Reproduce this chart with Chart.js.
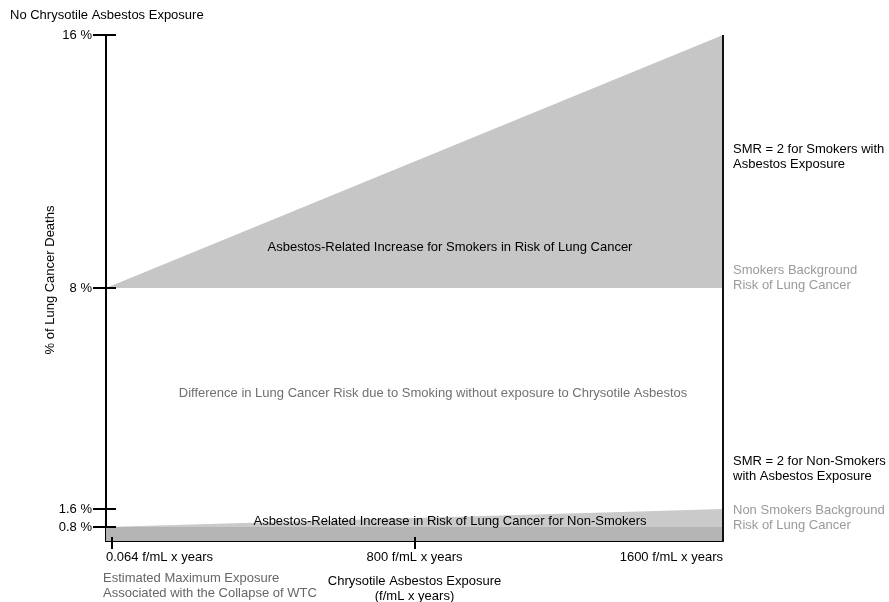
<!DOCTYPE html>
<html><head><meta charset="utf-8">
<script src="https://cdn.jsdelivr.net/npm/chart.js@4.4.1/dist/chart.umd.min.js"></script>
<style>html,body{margin:0;padding:0;background:#fff;}#wrap{width:889px;height:602px;position:relative;}</style>
</head><body><div id="wrap"><canvas id="c" width="889" height="602"></canvas></div>
<script>
// ---- data ----
const exposureLevels = [0.064, 1600];
const nonSmokersBackground = [0.8, 0.8];
const nonSmokersWithAsbestos = [0.8, 1.6];
const smokersBackground = [8, 8];
const smokersWithAsbestos = [8, 16];
const yTickValues = [0.8, 1.6, 8, 16];
const yTickLabels = ['0.8 %', '1.6 %', '8 %', '16 %'];
const xTickValues = [0.064, 800, 1600];
const xTickLabels = ['0.064 f/mL x years', '800 f/mL x years', '1600 f/mL x years'];

// schematic (broken) y axis: value knots and their share of the axis height
const yBreakValues = [0, 0.8, 1.6, 8, 16];
const yBreakFractions = [0, 14/506, 32/506, 0.5, 1];

const FONT = '"Liberation Sans", Arial, Helvetica, sans-serif';
Chart.defaults.font.family = FONT;
Chart.defaults.font.size = 13;
Chart.defaults.color = '#000';

class BrokenLinearScale extends Chart.LinearScale {
  getPixelForValue(value) {
    const v = yBreakValues, f = yBreakFractions;
    let d;
    if (value <= v[0]) d = f[0];
    else if (value >= v[v.length - 1]) d = f[f.length - 1];
    else {
      for (let i = 1; i < v.length; i++) {
        if (value <= v[i]) { d = f[i-1] + (value - v[i-1]) / (v[i] - v[i-1]) * (f[i] - f[i-1]); break; }
      }
    }
    return this.getPixelForDecimal(d);
  }
  getValueForPixel(pixel) {
    const d = this.getDecimalForPixel(pixel);
    const v = yBreakValues, f = yBreakFractions;
    for (let i = 1; i < f.length; i++) {
      if (d <= f[i]) return v[i-1] + (d - f[i-1]) / (f[i] - f[i-1]) * (v[i] - v[i-1]);
    }
    return v[v.length - 1];
  }
}
BrokenLinearScale.id = 'brokenLinear';
BrokenLinearScale.defaults = Chart.LinearScale.defaults;
Chart.register(BrokenLinearScale);

const pts = arr => exposureLevels.map((x, i) => ({x, y: arr[i]}));

const notes = [
  {t: 'No Chrysotile Asbestos Exposure', x: 10, y: 15, a: 'left', c: '#000'},
  {t: 'Asbestos-Related Increase for Smokers in Risk of Lung Cancer', x: 450, y: 247, a: 'center', c: '#000'},
  {t: 'Difference in Lung Cancer Risk due to Smoking without exposure to Chrysotile Asbestos', x: 433, y: 393, a: 'center', c: '#707070'},
  {t: 'Asbestos-Related Increase in Risk of Lung Cancer for Non-Smokers', x: 450, y: 521, a: 'center', c: '#000'},
  {t: 'SMR = 2 for Smokers with', x: 733, y: 149, a: 'left', c: '#000'},
  {t: 'Asbestos Exposure', x: 733, y: 164, a: 'left', c: '#000'},
  {t: 'Smokers Background', x: 733, y: 270, a: 'left', c: '#9a9a9a'},
  {t: 'Risk of Lung Cancer', x: 733, y: 285, a: 'left', c: '#9a9a9a'},
  {t: 'SMR = 2 for Non-Smokers', x: 733, y: 461, a: 'left', c: '#000'},
  {t: 'with Asbestos Exposure', x: 733, y: 476, a: 'left', c: '#000'},
  {t: 'Non Smokers Background', x: 733, y: 510, a: 'left', c: '#9a9a9a'},
  {t: 'Risk of Lung Cancer', x: 733, y: 525, a: 'left', c: '#9a9a9a'},
  {t: 'Estimated Maximum Exposure', x: 103, y: 578, a: 'left', c: '#666'},
  {t: 'Associated with the Collapse of WTC', x: 103, y: 593, a: 'left', c: '#666'}
];

const decor = {
  id: 'decor',
  afterDraw(chart) {
    const ctx = chart.ctx, ca = chart.chartArea;
    const xs = chart.scales.x, ys = chart.scales.y;
    ctx.save();
    ctx.strokeStyle = '#111';
    ctx.lineWidth = 2;
    // right frame line
    ctx.beginPath(); ctx.moveTo(ca.right, ca.top); ctx.lineTo(ca.right, ca.bottom + 1); ctx.stroke();
    ctx.strokeStyle = '#000';
    // y tick marks crossing the axis
    yTickValues.forEach(v => {
      const py = Math.round(ys.getPixelForValue(v));
      ctx.beginPath(); ctx.moveTo(93, py); ctx.lineTo(116, py); ctx.stroke();
    });
    // x tick marks
    xTickValues.forEach(v => {
      if (v >= 1600) return;
      const px = Math.round(xs.getPixelForValue(v)) + (v < 1 ? 6 : 0);
      ctx.beginPath(); ctx.moveTo(px, 537); ctx.lineTo(px, 549); ctx.stroke();
    });
    // texts
    ctx.font = '13px ' + FONT;
    ctx.textBaseline = 'middle';
    notes.forEach(n => { ctx.fillStyle = n.c; ctx.textAlign = n.a; ctx.fillText(n.t, n.x, n.y); });
    // y axis title
    ctx.translate(50, 280); ctx.rotate(-Math.PI / 2);
    ctx.fillStyle = '#000'; ctx.textAlign = 'center';
    ctx.fillText('% of Lung Cancer Deaths', 0, 0);
    ctx.restore();
  }
};

new Chart(document.getElementById('c'), {
  type: 'line',
  data: {
    datasets: [
      {label: 'Non Smokers Background', data: pts(nonSmokersBackground), fill: 'origin', backgroundColor: '#b4b4b4', borderWidth: 0, pointRadius: 0},
      {label: 'Non Smokers with Asbestos', data: pts(nonSmokersWithAsbestos), fill: '-1', backgroundColor: '#cacaca', borderWidth: 0, pointRadius: 0},
      {label: 'Smokers Background', data: pts(smokersBackground), fill: false, borderWidth: 0, pointRadius: 0},
      {label: 'Smokers with Asbestos', data: pts(smokersWithAsbestos), fill: '-1', backgroundColor: '#c6c6c6', borderWidth: 0, pointRadius: 0}
    ]
  },
  options: {
    responsive: false,
    animation: false,
    layout: {padding: {left: 0, top: 35, right: 166, bottom: 0}},
    plugins: {legend: {display: false}, tooltip: {enabled: false}},
    scales: {
      x: {
        type: 'linear', min: 0, max: 1600,
        afterBuildTicks: s => { s.ticks = xTickValues.map(v => ({value: v})); },
        afterFit: s => { s.height = 61; },
        grid: {display: false, drawTicks: false},
        border: {display: true, color: '#000', width: 2},
        ticks: {autoSkip: false, maxRotation: 0, align: 'inner', padding: 9, color: '#000',
          callback: v => xTickLabels[xTickValues.indexOf(v)]},
        title: {display: true, text: ['Chrysotile Asbestos Exposure', '(f/mL x years)'], color: '#000',
          font: {size: 13, lineHeight: 1.15}, padding: {top: 0, bottom: -2}}
      },
      y: {
        type: 'brokenLinear', min: 0, max: 16,
        afterBuildTicks: s => { s.ticks = yTickValues.map(v => ({value: v})); },
        afterFit: s => { s.width = 106; },
        grid: {display: false, drawTicks: false},
        border: {display: true, color: '#000', width: 2},
        ticks: {autoSkip: false, padding: 14, color: '#000',
          callback: v => yTickLabels[yTickValues.indexOf(v)]}
      }
    }
  },
  plugins: [decor]
});
</script></body></html>
